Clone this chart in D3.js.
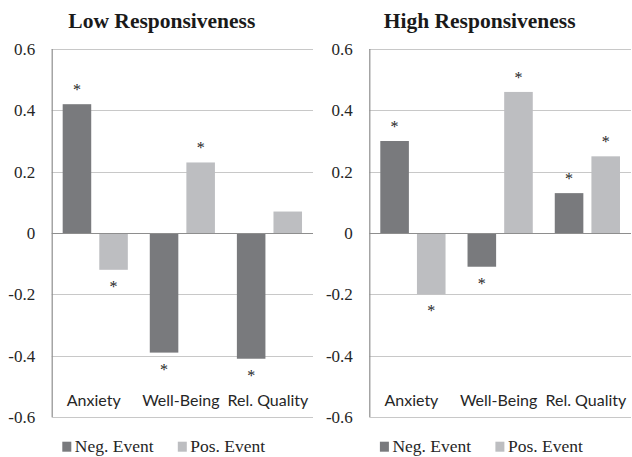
<!DOCTYPE html>
<html><head><meta charset="utf-8">
<script src="https://cdn.jsdelivr.net/npm/d3@7"></script>
<style>body{margin:0;background:#fff;}svg{display:block;}</style>
</head><body>
<svg id="chart" width="632" height="457"></svg>
<script>
const categories = ["Anxiety", "Well-Being", "Rel. Quality"];
const seriesNames = ["Neg. Event", "Pos. Event"];
const panelTitles = ["Low Responsiveness", "High Responsiveness"];
const yTicks = [-0.6, -0.4, -0.2, 0, 0.2, 0.4, 0.6];
const yTickLabels = ["-0.6", "-0.4", "-0.2", "0", "0.2", "0.4", "0.6"];
const lowNeg = [0.42, -0.39, -0.41];
const lowPos = [-0.12, 0.23, 0.07];
const highNeg = [0.30, -0.11, 0.13];
const highPos = [-0.20, 0.46, 0.25];
const lowNegSig = [true, true, true];
const lowPosSig = [true, true, false];
const highNegSig = [true, true, true];
const highPosSig = [true, true, true];

const SERIF = "Liberation Serif";
const SANS = "Lato";
const panels = [
  {title: panelTitles[0], series: [lowNeg, lowPos], sig: [lowNegSig, lowPosSig], left: 51.7, right: 313},
  {title: panelTitles[1], series: [highNeg, highPos], sig: [highNegSig, highPosSig], left: 369.3, right: 631}
];
const colors = ["#797a7d", "#bdbec1"];
const plotTop = 49, plotBottom = 417;
const svg = d3.select("#chart");

const y = d3.scaleLinear().domain([-0.6, 0.6]).range([plotBottom, plotTop]);

panels.forEach(p => {
  const g = svg.append("g");
  const x0 = d3.scaleBand().domain(categories).range([p.left, p.right]).padding(0);
  const x1 = d3.scaleBand().domain(seriesNames).range([0, x0.bandwidth()]).paddingInner(0.22).paddingOuter(0.3);

  // gridlines
  g.selectAll("line.grid").data(yTicks.filter(t => t !== 0)).enter().append("line")
    .attr("class", "grid")
    .attr("x1", p.left).attr("x2", p.right)
    .attr("y1", d => Math.round(y(d)) + 0.5).attr("y2", d => Math.round(y(d)) + 0.5)
    .attr("stroke", "#c8c8c8").attr("stroke-width", 1.2);

  // tick labels
  g.selectAll("text.tick").data(yTicks).enter().append("text")
    .attr("class", "tick")
    .attr("font-family", SERIF)
    .attr("x", p.left - 16.5).attr("y", d => y(d) + 6)
    .attr("text-anchor", "end")
    .attr("font-size", 17).attr("fill", "#262626")
    .text((d, i) => yTickLabels[i]);

  // bars
  const rows = [];
  categories.forEach((c, i) => seriesNames.forEach((s, j) => rows.push({c, s, v: p.series[j][i], sig: p.sig[j][i], j})));
  g.selectAll("rect.bar").data(rows).enter().append("rect")
    .attr("class", "bar")
    .attr("x", d => x0(d.c) + x1(d.s))
    .attr("width", x1.bandwidth())
    .attr("y", d => y(Math.max(0, d.v)))
    .attr("height", d => Math.abs(y(d.v) - y(0)))
    .attr("fill", d => colors[d.j]);

  // significance asterisks
  g.selectAll("text.sig").data(rows.filter(d => d.sig)).enter().append("text")
    .attr("class", "sig")
    .attr("font-family", SERIF)
    .attr("x", d => x0(d.c) + x1(d.s) + x1.bandwidth() / 2)
    .attr("y", d => d.v >= 0 ? y(d.v) - 16 + 7 : y(d.v) + 15 + 7)
    .attr("text-anchor", "middle")
    .attr("font-size", 16).attr("fill", "#1e1e1e")
    .text("*");

  // zero line and axis line
  g.append("line").attr("x1", p.left).attr("x2", p.right)
    .attr("y1", Math.round(y(0)) + 0.5).attr("y2", Math.round(y(0)) + 0.5)
    .attr("stroke", "#8e8e8e").attr("stroke-width", 1.2);
  g.append("line").attr("x1", p.left + 0.5).attr("x2", p.left + 0.5)
    .attr("y1", y(0.6)).attr("y2", y(-0.6))
    .attr("stroke", "#8e8e8e").attr("stroke-width", 1.2);

  // category labels
  g.selectAll("text.cat").data(categories).enter().append("text")
    .attr("class", "cat")
    .attr("font-family", SANS)
    .attr("x", d => x0(d) + x0.bandwidth() / 2 - 1.5)
    .attr("y", 406)
    .attr("text-anchor", "middle")
    .attr("font-size", 16).attr("fill", "#262626")
    .text(d => d);

  // title
  g.append("text")
    .attr("font-family", SERIF)
    .attr("x", (p.left + p.right) / 2 - 20.5).attr("y", 27.7)
    .attr("text-anchor", "middle")
    .attr("font-weight", "bold").attr("font-size", 21.5).attr("fill", "#1a1a1a")
    .text(p.title);

  // legend
  const lg = g.selectAll("g.leg").data(seriesNames).enter().append("g")
    .attr("class", "leg")
    .attr("transform", (d, i) => `translate(${p.left + 10.6 + i * 115.5},441.7)`);
  lg.append("rect").attr("width", 9).attr("height", 10).attr("fill", (d, i) => colors[i]);
  lg.append("text").attr("font-family", SERIF).attr("x", 12.5).attr("y", 10.5)
    .attr("font-size", 17.5).attr("fill", "#262626")
    .text(d => d);
});
</script>
</body></html>
